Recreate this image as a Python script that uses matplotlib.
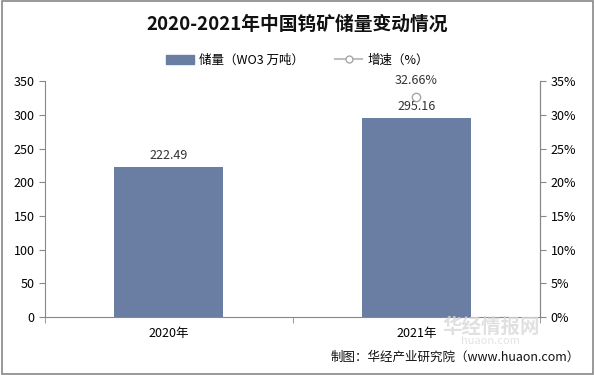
import matplotlib
matplotlib.use("Agg")
import matplotlib.pyplot as plt
import numpy as np
from matplotlib.patches import Patch
from matplotlib.lines import Line2D

plt.rcParams['font.family'] = ['Noto Sans CJK SC', 'DejaVu Sans']

years = ["2020年", "2021年"]
reserves = [222.49, 295.16]
growth = [None, 32.66]

bar_color = "#6a7da3"
fig = plt.figure(figsize=(5.95, 3.75), dpi=100)
ax = fig.add_axes([0.0756, 0.1547, 0.832, 0.629])
x = np.arange(len(years))
ax.bar(x, reserves, width=0.44, color=bar_color, zorder=2)
for xi, v in zip(x, reserves):
    ax.text(xi, v + 8, f"{v:.2f}", ha="center", va="bottom", fontsize=9, color="#333333")

ax.set_xlim(-0.5, 1.5)
ax.set_ylim(0, 350)
ax.set_yticks(range(0, 351, 50))
ax.set_xticks(x)
ax.set_xticklabels(years, fontsize=9)
ax.set_xticks([-0.5, 0.5, 1.5], minor=True)
ax.tick_params(axis="x", which="major", length=0, pad=7)
ax.tick_params(axis="x", which="minor", length=4, color="#888888")
ax.tick_params(axis="y", labelsize=9, length=4, color="#888888")
for s in ["left", "bottom", "right"]:
    ax.spines[s].set_color("#888888")
ax.spines["top"].set_visible(False)

ax2 = ax.twinx()
ax2.set_ylim(0, 35)
ax2.set_yticks(range(0, 36, 5))
ax2.set_yticklabels([f"{t}%" for t in range(0, 36, 5)], fontsize=9)
ax2.tick_params(axis="y", length=4, color="#888888")
for s in ["top", "left", "bottom"]:
    ax2.spines[s].set_visible(False)
ax2.spines["right"].set_color("#888888")
gx = [xi for xi, g in zip(x, growth) if g is not None]
gy = [g for g in growth if g is not None]
ax2.plot(gx, gy, color="#bfbfbf", marker="o", markersize=6, markerfacecolor="white",
         markeredgecolor="#a6a6a6", lw=1.5, zorder=3)
for xi, g in zip(gx, gy):
    ax2.text(xi, g + 1.4, f"{g:.2f}%", ha="center", va="bottom", fontsize=9, color="#333333")

fig.text(0.5, 0.935, "2020-2021年中国钨矿储量变动情况", ha="center", va="center",
         fontsize=13.5, fontweight="bold", color="#111111")

handles = [Patch(color=bar_color),
           Line2D([0], [0], color="#bfbfbf", lw=1.5, marker="o", markersize=5,
                  markerfacecolor="white", markeredgecolor="#a6a6a6")]
fig.legend(handles, ["储量（WO3 万吨）", "增速（%）"], loc="center", bbox_to_anchor=(0.5, 0.84),
           ncol=2, frameon=False, fontsize=9, handlelength=2.2, columnspacing=2.5,
           handletextpad=0.4)

# faint watermark
fig.text(0.825, 0.128, "华经情报网", fontsize=14, fontweight="bold", color="#d9d9d9",
         ha="center", va="center", alpha=0.8)
fig.text(0.825, 0.092, "huaon.com", fontsize=8, color="#e3e3e3", ha="center", va="center")
fig.text(0.975, 0.047, "制图：华经产业研究院（www.huaon.com）", fontsize=9, ha="right",
         va="center", color="#111111")

fig.patches.append(plt.Rectangle((0.003, 0.003), 0.994, 0.994, transform=fig.transFigure,
                                 fill=False, edgecolor="#888888", lw=1.2))
fig.savefig("out.png", dpi=100)
